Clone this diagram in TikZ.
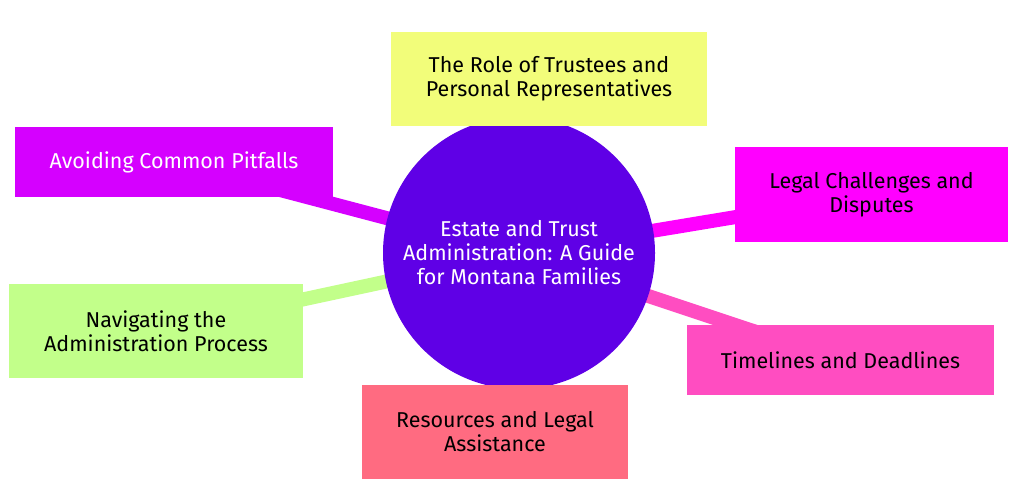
\documentclass[tikz,border=0pt]{standalone}
\usepackage{fontspec}
\setmainfont{Fira Sans}
\usetikzlibrary{backgrounds}

\definecolor{rootcol}{HTML}{5F00E6}
\definecolor{trustcol}{HTML}{F2FD7A}
\definecolor{pitcol}{HTML}{D500FF}
\definecolor{legalcol}{HTML}{FF00FF}
\definecolor{navcol}{HTML}{C2FF8A}
\definecolor{timecol}{HTML}{FF4DC1}
\definecolor{rescol}{HTML}{FF6B81}

\begin{document}
\begin{tikzpicture}[
  x=1pt, y=-1pt,
  font=\fontsize{21.5}{24}\selectfont,
  mmroot/.style={circle, fill=rootcol, text=white, align=center, minimum size=272pt, inner sep=0pt},
  mmbox/.style={rectangle, align=center, inner sep=0pt},
  mmedge/.style={line width=14pt}
]
\useasboundingbox (0,0) rectangle (1019,500);

%--------------------------------------------------------------
% Nodo centrale
%--------------------------------------------------------------
\node[mmroot] (root) at (519,253)
  {Estate and Trust\\ Administration: A Guide\\ for Montana Families};

%--------------------------------------------------------------
% Rami della mappa
%--------------------------------------------------------------
\node[mmbox, fill=trustcol, minimum width=316pt, minimum height=94pt] (trust) at (549,79)
  {The Role of Trustees and\\ Personal Representatives};
\node[mmbox, fill=pitcol, text=white, minimum width=318pt, minimum height=70pt] (pit) at (174,162)
  {Avoiding Common Pitfalls};
\node[mmbox, fill=legalcol, minimum width=273pt, minimum height=95pt] (legal) at (871.5,194.5)
  {Legal Challenges and\\ Disputes};
\node[mmbox, fill=navcol, minimum width=294pt, minimum height=94pt] (nav) at (156,331)
  {Navigating the\\ Administration Process};
\node[mmbox, fill=timecol, minimum width=307pt, minimum height=70pt] (time) at (840.5,360)
  {Timelines and Deadlines};
\node[mmbox, fill=rescol, minimum width=266pt, minimum height=94pt] (res) at (495,432)
  {Resources and Legal\\ Assistance};

%--------------------------------------------------------------
% Collegamenti (sotto i nodi)
%--------------------------------------------------------------
\begin{scope}[on background layer]
  \foreach \n/\c in {trust/trustcol, pit/pitcol, legal/legalcol, nav/navcol, time/timecol, res/rescol}{
    \draw[mmedge, draw=\c] (root.center) -- (\n.center);
  }
\end{scope}

\end{tikzpicture}
\end{document}
